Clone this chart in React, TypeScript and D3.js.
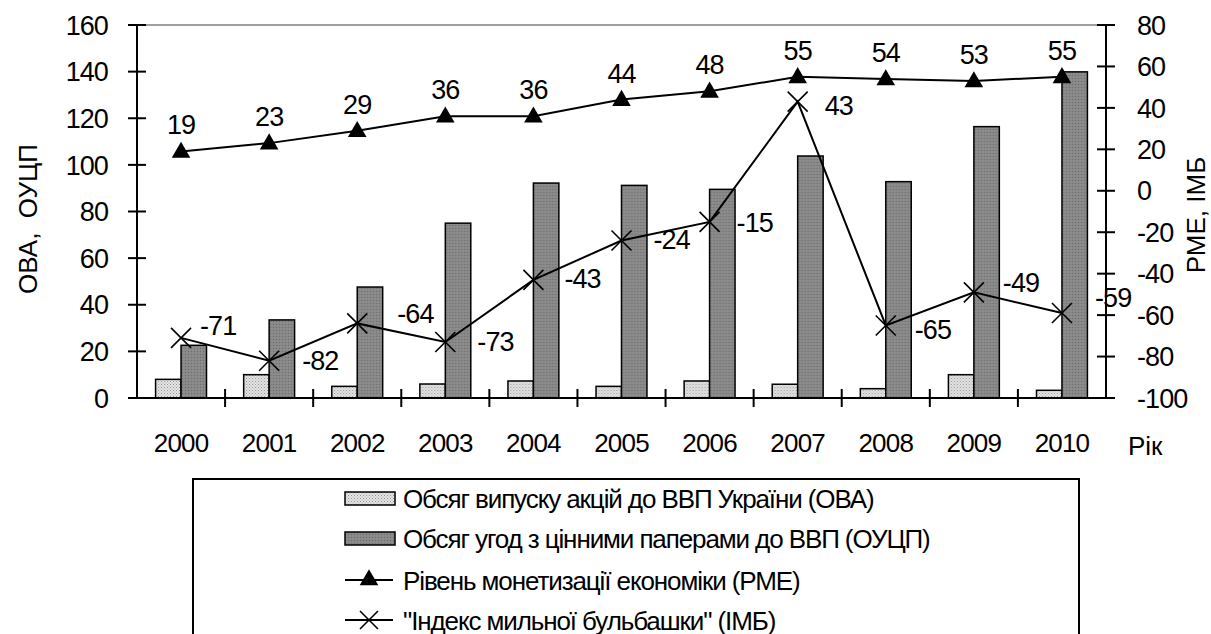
import * as d3 from 'd3';

// роки
const years = ['2000', '2001', '2002', '2003', '2004', '2005', '2006', '2007', '2008', '2009', '2010'];
// ОВА — обсяг випуску акцій до ВВП, %
const ova = [8, 10, 5, 6, 7.3, 5, 7.3, 5.9, 4, 10, 3.3];
// ОУЦП — обсяг угод з цінними паперами до ВВП, %
const oucp = [22.6, 33.5, 47.6, 75, 92.2, 91.2, 89.5, 103.8, 92.8, 116.4, 139.9];
// РМЕ — рівень монетизації економіки
const pme = [19, 23, 29, 36, 36, 44, 48, 55, 54, 53, 55];
// ІМБ — "індекс мильної бульбашки"
const imb = [-71, -82, -64, -73, -43, -24, -15, 43, -65, -49, -59];

const leftTicks = [0, 20, 40, 60, 80, 100, 120, 140, 160];
const rightTicks = [-100, -80, -60, -40, -20, 0, 20, 40, 60, 80];

const legendLabels = [
  'Обсяг випуску акцій до ВВП України (ОВА)',
  'Обсяг угод з цінними паперами до ВВП (ОУЦП)',
  'Рівень монетизації економіки (РМЕ)',
  '"Індекс мильної бульбашки" (ІМБ)',
];

// ручні зсуви підписів ІМБ (як у вихідному Excel)
const imbNudge: [number, number][] = [
  [-11, -13], [3, 0], [10, -10], [2, -1], [1, -2], [2, -1], [-3, 0], [-3, 4], [-1, 4], [-1, -10], [3, -16],
];

const FONT = '"Liberation Sans", Arial, sans-serif';
const W = 1211, H = 634;
const L = 137, R = 1106, T = 25, B = 398;
const FS = 27;      // розмір шрифту осей і підписів
const LS = -0.9;    // трохи стиснутий шрифт, як в оригіналі

export default function App() {
  const x = d3.scaleBand<string>().domain(years).range([L, R]).paddingInner(0).paddingOuter(0);
  const x1 = d3.scaleBand<string>().domain(['ova', 'oucp']).range([0, x.bandwidth()]).paddingInner(0).paddingOuter(0.73);
  const yL = d3.scaleLinear().domain([0, 160]).range([B, T]);
  const yR = d3.scaleLinear().domain([-100, 80]).range([B, T]);
  const cx = (d: string) => (x(d) as number) + x.bandwidth() / 2;

  const line = d3.line<number>().x((_, i) => cx(years[i])).y(v => yR(v));
  const tri = d3.symbol().type(d3.symbolTriangle).size(150)();

  const cross = (px: number, py: number, s = 10) =>
    `M${px - s},${py - s}L${px + s},${py + s}M${px - s},${py + s}L${px + s},${py - s}`;

  const boundaries = years.slice(1).map(d => x(d) as number);

  const legY = [498.5, 538.5, 580, 620];

  return (
    <svg width={W} height={H} style={{ position: 'absolute', left: 0, top: 0, display: 'block', background: '#fff' }}
      fontFamily={FONT}>
      <defs>
        <pattern id="pLight" width="3" height="3" patternUnits="userSpaceOnUse">
          <rect width="3" height="3" fill="#e4e4e4" />
          <rect width="1" height="1" fill="#959595" />
          <rect x="1.5" y="1.5" width="1" height="1" fill="#aaaaaa" />
        </pattern>
        <pattern id="pDark" width="3" height="3" patternUnits="userSpaceOnUse">
          <rect width="3" height="3" fill="#878787" />
          <rect width="1" height="1" fill="#6e6e6e" />
          <rect x="1.5" y="1.5" width="1" height="1" fill="#9a9a9a" />
        </pattern>
      </defs>

      {/* рамка області побудови */}
      <line x1={L} x2={R} y1={T} y2={T} stroke="#808080" strokeWidth={1.5} />

      {/* стовпці */}
      {years.map((d, i) => (
        <g key={d} transform={`translate(${x(d)},0)`}>
          <rect x={x1('ova')} y={yL(ova[i])} width={x1.bandwidth()} height={B - yL(ova[i])}
            fill="url(#pLight)" stroke="#000" strokeWidth={1.5} />
          <rect x={x1('oucp')} y={yL(oucp[i])} width={x1.bandwidth()} height={B - yL(oucp[i])}
            fill="url(#pDark)" stroke="#000" strokeWidth={1.5} />
        </g>
      ))}

      {/* осі */}
      <line x1={L} x2={L} y1={T} y2={B} stroke="#000" strokeWidth={2} />
      <line x1={R} x2={R} y1={T} y2={B} stroke="#000" strokeWidth={2} />
      <line x1={L} x2={R} y1={B} y2={B} stroke="#000" strokeWidth={2} />
      {leftTicks.map(t => (
        <g key={'l' + t}>
          <line x1={L - 9} x2={L + 9} y1={yL(t)} y2={yL(t)} stroke="#000" strokeWidth={2} />
          <text x={L - 29} y={yL(t)} dy="0.36em" textAnchor="end" fontSize={FS} letterSpacing={LS}>{t}</text>
        </g>
      ))}
      {rightTicks.map(t => (
        <g key={'r' + t}>
          <line x1={R - 9} x2={R + 9} y1={yR(t)} y2={yR(t)} stroke="#000" strokeWidth={2} />
          <text x={R + 31} y={yR(t)} dy="0.36em" textAnchor="start" fontSize={FS} letterSpacing={LS}>{t}</text>
        </g>
      ))}
      {boundaries.map((b, i) => (
        <line key={'b' + i} x1={b} x2={b} y1={B - 9} y2={B + 9} stroke="#000" strokeWidth={2} />
      ))}
      {years.map(d => (
        <text key={'y' + d} x={cx(d)} y={452} textAnchor="middle" fontSize={26} letterSpacing={-0.8}>{d}</text>
      ))}
      <text x={1128} y={455} fontSize={26}>Рік</text>

      <text transform={`translate(37,219) rotate(-90)`} textAnchor="middle" fontSize={26}
        style={{ whiteSpace: 'pre' }}>{'ОВА,  ОУЦП'}</text>
      <text transform={`translate(1205,215) rotate(-90)`} textAnchor="middle" fontSize={26}>РМЕ, ІМБ</text>

      {/* РМЕ */}
      <path d={line(pme) as string} fill="none" stroke="#000" strokeWidth={2} />
      {pme.map((v, i) => (
        <g key={'p' + i}>
          <path d={tri as string} transform={`translate(${cx(years[i])},${yR(v) + 1})`} fill="#000" />
          <text x={cx(years[i])} y={yR(v) - 17} textAnchor="middle" fontSize={FS} letterSpacing={LS}>{v}</text>
        </g>
      ))}

      {/* ІМБ */}
      <path d={line(imb) as string} fill="none" stroke="#000" strokeWidth={2} />
      {imb.map((v, i) => (
        <g key={'m' + i}>
          <path d={cross(cx(years[i]), yR(v))} stroke="#000" strokeWidth={1.6} />
          <text x={cx(years[i]) + 30 + imbNudge[i][0]} y={yR(v) + imbNudge[i][1]} dy="0.36em"
            fontSize={FS} letterSpacing={LS}>{v}</text>
        </g>
      ))}

      {/* легенда */}
      <rect x={193} y={479} width={886} height={200} fill="none" stroke="#000" strokeWidth={2} />
      {legendLabels.map((lab, i) => {
        const yy = legY[i];
        return (
          <g key={'lg' + i}>
            {i === 0 && <rect x={345} y={yy - 6.5} width={50} height={13} fill="url(#pLight)" stroke="#000" strokeWidth={1.5} />}
            {i === 1 && <rect x={345} y={yy - 6.5} width={50} height={13} fill="url(#pDark)" stroke="#000" strokeWidth={1.5} />}
            {i >= 2 && <line x1={345} x2={393} y1={yy} y2={yy} stroke="#000" strokeWidth={2} />}
            {i === 2 && <path d={tri as string} transform={`translate(369,${yy})`} fill="#000" />}
            {i === 3 && <path d={cross(369, yy, 9)} stroke="#000" strokeWidth={1.6} />}
            <text x={403} y={yy + 9.5} fontSize={26} letterSpacing={-1.1}>{lab}</text>
          </g>
        );
      })}
    </svg>
  );
}
